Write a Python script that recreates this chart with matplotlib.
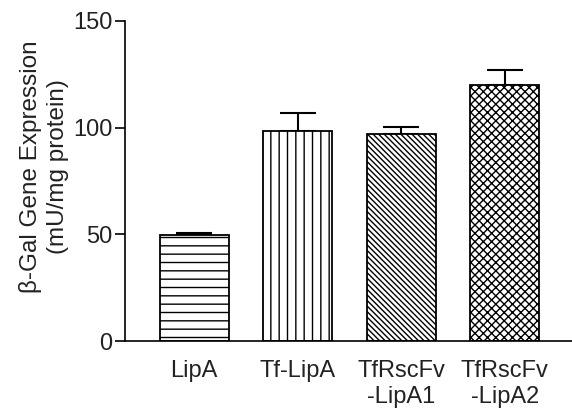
import numpy as np
import matplotlib.pyplot as plt

plt.rcParams['font.family'] = ['Liberation Sans', 'DejaVu Sans']
plt.rcParams['hatch.linewidth'] = 1.0

labels = ['LipA', 'Tf-LipA', 'TfRscFv\n-LipA1', 'TfRscFv\n-LipA2']
values = [49.6, 98.2, 97.0, 119.8]
errors = [1.1, 8.6, 3.2, 7.4]
hatches = ['--', '||', '\\\\\\\\\\\\', 'xxxx']

fig = plt.figure(figsize=(5.72, 4.11), dpi=100)
ax = fig.add_axes([0.2185, 0.1703, 0.7815, 0.7787])

x = np.arange(len(labels))
for i in range(len(labels)):
    ax.bar(x[i], values[i], width=0.67, color='white', edgecolor='black',
           linewidth=1.3, hatch=hatches[i], zorder=2)
ax.errorbar(x, values, yerr=[np.zeros(len(errors)), errors], fmt='none',
            ecolor='black', elinewidth=1.5, capsize=13, capthick=1.5, zorder=1)

ax.set_xlim(-0.67, 3.65)
ax.set_ylim(0, 150)
ax.set_yticks([0, 50, 100, 150])
ax.set_xticks(x)
ax.set_xticklabels(labels, fontsize=17, color='#222222', linespacing=1.2)
ax.tick_params(axis='x', length=0, pad=14)
ax.tick_params(axis='y', length=7, width=1.2, pad=2, labelsize=17, labelcolor='#222222')
for s in ['top', 'right']:
    ax.spines[s].set_visible(False)
for s in ['left', 'bottom']:
    ax.spines[s].set_linewidth(1.2)

ax.set_ylabel('β-Gal Gene Expression\n(mU/mg protein)', fontsize=17.5,
              color='#222222', linespacing=1.3)
ax.yaxis.set_label_coords(-0.125, 0.545)

fig.savefig('out.png', dpi=100)
